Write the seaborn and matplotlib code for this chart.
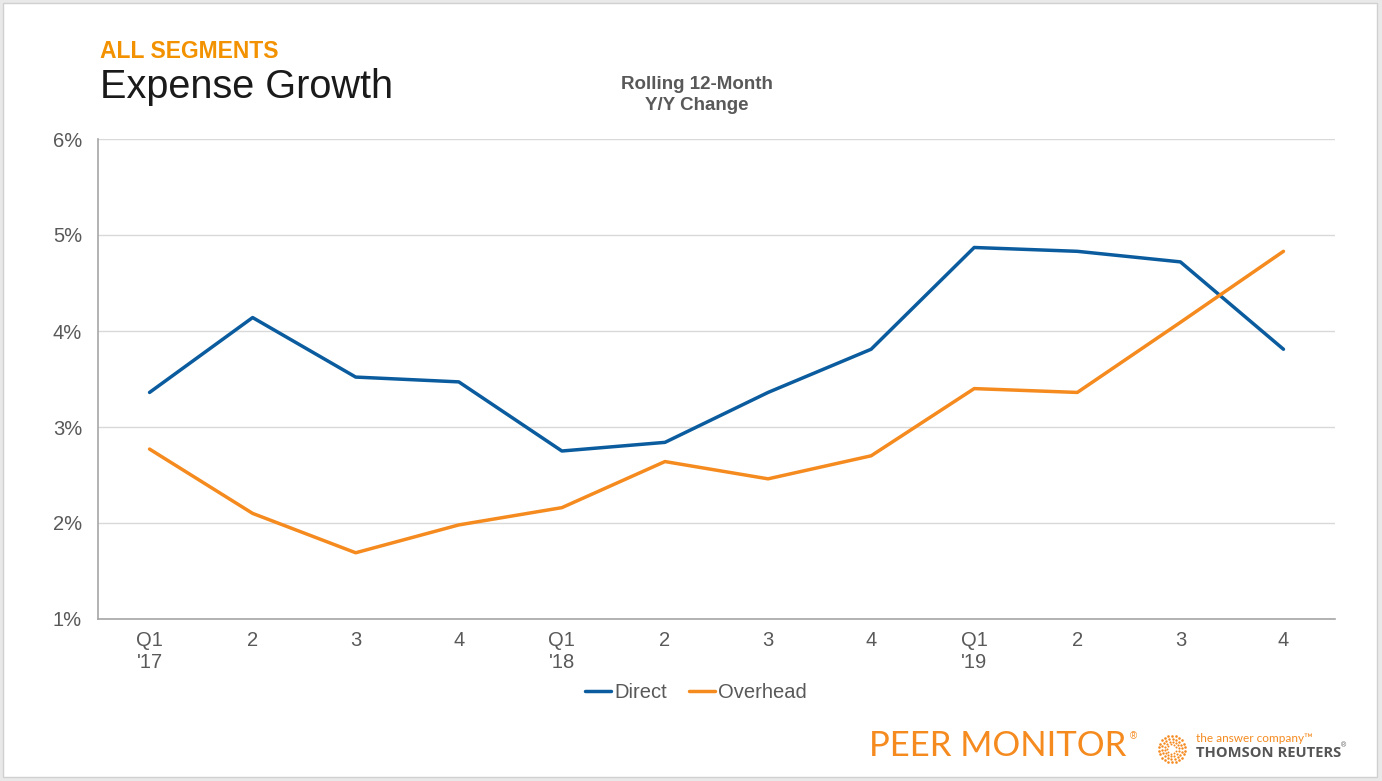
import numpy as np
import pandas as pd
import matplotlib
matplotlib.use("Agg")
import matplotlib.pyplot as plt
import seaborn as sns
from matplotlib.patches import Rectangle

sns.set_theme(style="white")
plt.rcParams['font.family'] = ['Liberation Sans', 'DejaVu Sans']

quarters = ["Q1\n'17", "2", "3", "4", "Q1\n'18", "2", "3", "4", "Q1\n'19", "2", "3", "4"]
direct = [3.36, 4.14, 3.52, 3.47, 2.75, 2.84, 3.36, 3.81, 4.87, 4.83, 4.72, 3.81]
overhead = [2.77, 2.10, 1.69, 1.98, 2.16, 2.64, 2.46, 2.70, 3.40, 3.36, 4.09, 4.83]
series_names = ["Direct", "Overhead"]
y_ticks = [1, 2, 3, 4, 5, 6]

blue = "#0B5C9E"
orange = "#F58A1F"
grey_txt = "#595959"

df = pd.DataFrame({
    "idx": list(range(len(quarters))) * 2,
    "value": direct + overhead,
    "series": [series_names[0]] * len(direct) + [series_names[1]] * len(overhead),
})

W, H = 1382, 781
fig = plt.figure(figsize=(W / 100, H / 100), dpi=100)
fig.patch.set_facecolor("#E9E9E9")
# white slide with thin frame
fig.patches.append(Rectangle((3 / W, 4 / H), 1374 / W, 774 / H, transform=fig.transFigure,
                             facecolor="white", edgecolor="#D0D0D0", linewidth=1.0, zorder=-10))

ax = fig.add_axes([98 / W, 162 / H, (1335 - 98) / W, 480 / H])
ax.set_facecolor("white")
sns.lineplot(data=df, x="idx", y="value", hue="series", palette=[blue, orange],
             linewidth=2.5, ax=ax, legend=False)

ax.set_xlim(-0.5, len(quarters) - 0.5)
ax.set_ylim(1, 6)
ax.set_yticks(y_ticks)
ax.set_yticklabels([f"{t}%" for t in y_ticks])
ax.set_xticks(range(len(quarters)))
ax.set_xticklabels(quarters, linespacing=1.2)
ax.tick_params(axis="y", length=0, pad=11.5, labelsize=14.5, labelcolor=grey_txt)
ax.tick_params(axis="x", length=0, pad=9, labelsize=14.5, labelcolor=grey_txt)
ax.set_xlabel("")
ax.set_ylabel("")
ax.yaxis.grid(True, color="#D9D9D9", linewidth=1)
ax.set_axisbelow(True)
for s in ["top", "right"]:
    ax.spines[s].set_visible(False)
for s in ["left", "bottom"]:
    ax.spines[s].set_color("#A6A6A6")
    ax.spines[s].set_linewidth(1.2)

# legend
handles = [plt.Line2D([], [], color=c, linewidth=2.5) for c in [blue, orange]]
fig.legend(handles, series_names, loc="center", bbox_to_anchor=(696 / W, 1 - 693 / H),
           ncol=2, frameon=False, fontsize=14.5, handlelength=1.3, handletextpad=0.15,
           columnspacing=1.1, labelcolor=grey_txt)

# titles
fig.text(100 / W, 1 - 52 / H, "ALL SEGMENTS", color="#F39200", fontsize=16.5,
         fontweight="bold", va="center", ha="left")
fig.text(100 / W, 1 - 87 / H, "Expense Growth", color="#1A1A1A", fontsize=28.5,
         va="center", ha="left")
fig.text(697 / W, 1 - 95 / H, "Rolling 12-Month\nY/Y Change", color=grey_txt,
         fontsize=13.5, fontweight="bold", va="center", ha="center", linespacing=1.3)

# footer branding
fig.text(869 / W, 1 - 746 / H, "PEER MONITOR", color=orange, fontsize=25,
         family=["Lato", "DejaVu Sans"], va="center", ha="left")
fig.text(1130 / W, 1 - 736 / H, "®", color=orange, fontsize=7, va="center", ha="left")
fig.text(1196 / W, 1 - 738 / H, "the answer company\u2122", color=orange, fontsize=8.5,
         va="center", ha="left", family=["Lato", "DejaVu Sans"])
fig.text(1196 / W, 1 - 753 / H, "THOMSON REUTERS", color="#555555", fontsize=10.6,
         fontweight="bold", va="center", ha="left", family=["Open Sans", "DejaVu Sans"])
fig.text(1341 / W, 1 - 746 / H, "®", color="#555555", fontsize=5, va="center", ha="left")

# dotted ring logo
lax = fig.add_axes([1157 / W, 1 - 764 / H, 30 / W, 30 / H])
for r, n, sz in [(1.0, 22, 3.5), (0.78, 18, 3.0), (0.56, 14, 2.5), (0.36, 9, 2.0)]:
    th = np.linspace(0, 2 * np.pi, n, endpoint=False) + r
    lax.scatter(r * np.cos(th), r * np.sin(th), s=sz, color=orange, linewidths=0)
lax.set_xlim(-1.15, 1.15)
lax.set_ylim(-1.15, 1.15)
lax.set_aspect("equal")
lax.axis("off")

fig.savefig("out.png", dpi=100, facecolor=fig.get_facecolor())
